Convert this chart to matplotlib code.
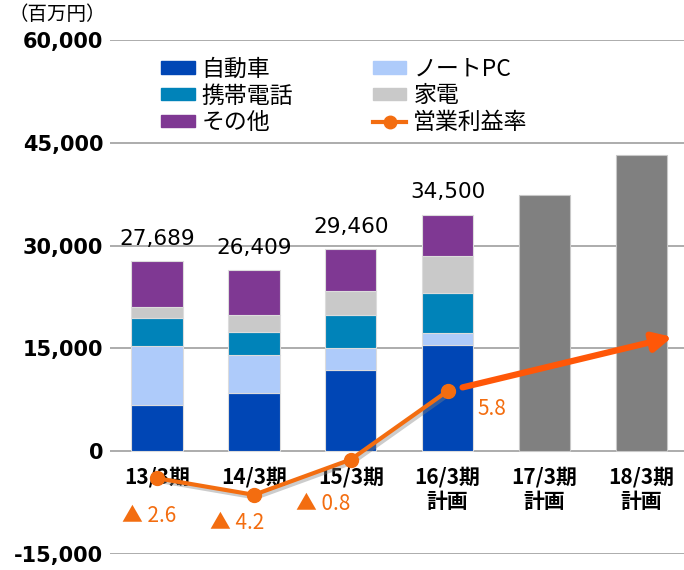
import numpy as np
import matplotlib.pyplot as plt
import matplotlib.patheffects as pe
from matplotlib.lines import Line2D
from matplotlib.patches import Patch

plt.rcParams['font.family'] = ['Noto Sans CJK JP', 'DejaVu Sans']

# 売上高（百万円）セグメント別
periods = ['13/3期', '14/3期', '15/3期', '16/3期\n計画', '17/3期\n計画', '18/3期\n計画']
auto = [6700, 8540, 11900, 15430]
notepc = [8630, 5440, 3200, 1800]
phone = [4140, 3390, 4800, 5820]
appliance = [1540, 2430, 3440, 5390]
other = [6679, 6609, 6120, 6060]
plan_total = [37400, 43200]

# 営業利益率（%）
rate = [-2.6, -4.2, -0.8, 5.8]

seg_names = ['自動車', 'ノートPC', '携帯電話', '家電', 'その他']
seg_values = [auto, notepc, phone, appliance, other]
seg_colors = ['#0046B5', '#AECBFA', '#0083B9', '#C9C9C9', '#7F3893']
line_color = '#F36D10'
arrow_color = '#FF5708'

fig = plt.figure(figsize=(6.84, 5.7), dpi=100)
ax = fig.add_axes([0.161, 0.028, 0.839, 0.902])

x = np.arange(len(periods))
w = 0.53
n = len(auto)
bottom = np.zeros(n)
for name, vals, col in zip(seg_names, seg_values, seg_colors):
    ax.bar(x[:n], vals, w, bottom=bottom, color=col, edgecolor='#dcdcdc',
           linewidth=0.8, zorder=2)
    bottom += np.array(vals)
ax.bar(x[n:], plan_total, w, color='#808080', edgecolor='#c8c8c8',
       linewidth=0.8, zorder=2)

for i, t in enumerate(bottom):
    ax.annotate(f'{int(t):,}', (x[i], t), xytext=(0, 9), textcoords='offset points',
                ha='center', va='bottom', fontsize=15.5, family='DejaVu Sans')

ax.set_xlim(-0.485, 5.44)
ax.set_ylim(-15000, 60000)
ax.set_yticks(np.arange(-15000, 60001, 15000))
ax.set_yticklabels([f'{v:,}' for v in range(-15000, 60001, 15000)],
                   fontsize=15, fontweight='bold', family='DejaVu Sans')
ax.tick_params(axis='y', length=0, pad=5)
ax.set_xticks([])
ax.grid(axis='y', color='#a6a6a6', linewidth=1.3, zorder=0)
ax.set_axisbelow(True)
for s in ax.spines.values():
    s.set_visible(False)

for i, p in enumerate(periods):
    ax.annotate(p, (x[i], 0), xytext=(0, -11), textcoords='offset points',
                ha='center', va='top', fontsize=15, fontweight='bold',
                linespacing=1.2, zorder=1)

fig.text(0.012, 0.975, '（百万円）', fontsize=14, ha='left', va='center')

# 営業利益率は右側の非表示軸に描画（0 を売上高の 0 に揃える）
ax2 = ax.twinx()
ax2.set_ylim(-9.9, 39.6)
ax2.set_axis_off()
shadow = [pe.SimpleLineShadow(offset=(1.5, -2), shadow_color='#808080', alpha=0.4),
          pe.Normal()]
ax2.plot(x[:n], rate, color=line_color, lw=3, path_effects=shadow, zorder=5)
ax2.plot(x[:n], rate, color=line_color, lw=0, marker='o', markersize=10, zorder=6)
ax2.annotate('', xy=(5.32, 11.0), xytext=(x[n - 1], rate[-1]),
             arrowprops=dict(arrowstyle='-|>', color=arrow_color, lw=4.5,
                             mutation_scale=28, shrinkA=11, shrinkB=0))

label_offsets = [(-6, -27), (-12, -20), (-20, -32), (32, -13)]
for i, (r, off) in enumerate(zip(rate, label_offsets)):
    txt = f'▲ {abs(r)}' if r < 0 else f'{r}'
    ax2.annotate(txt, (x[i], r), xytext=off, textcoords='offset points',
                 ha='center', va='center', fontsize=15, color=line_color)

handles = [Patch(color=c) for c in seg_colors]
handles.append(Line2D([], [], color=line_color, lw=3, marker='o', markersize=9))
labels = seg_names + ['営業利益率']
order = [0, 2, 4, 1, 3, 5]
leg = fig.legend([handles[k] for k in order], [labels[k] for k in order],
                 ncol=2, loc='upper left', bbox_to_anchor=(0.236, 0.899),
                 frameon=False, fontsize=16.5, handlelength=1.45, handleheight=0.45,
                 handletextpad=0.3, labelspacing=0.17, columnspacing=3.5,
                 borderpad=0, borderaxespad=0)

fig.savefig('out.png', dpi=100)
